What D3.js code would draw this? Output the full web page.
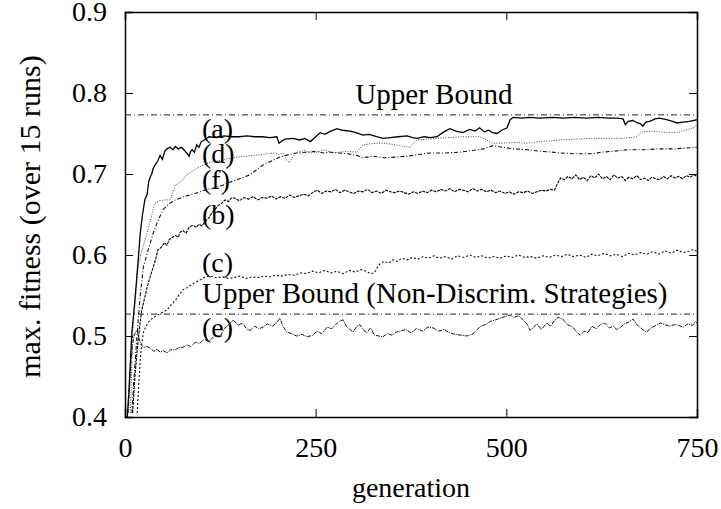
<!DOCTYPE html>
<html>
<head>
<meta charset="utf-8">
<script src="https://cdn.jsdelivr.net/npm/d3@7"></script>
<style>
  body { margin: 0; background: #fff; }
  svg text { font-family: "Liberation Serif", "Times New Roman", Times, "DejaVu Serif", serif !important; fill: #000; }
</style>
</head>
<body>
<div id="chart"></div>
<script>
// [generation, max. fitness]
const seriesA = [[3,0.40],[5,0.43],[9,0.504],[13,0.544],[17,0.59],[20,0.627],[23,0.65],[26,0.668],[29,0.675],[31,0.69],[33,0.696],[35,0.70],[37,0.707],[40,0.712],[43,0.716],[46,0.723],[49,0.718],[52,0.728],[55,0.731],[59,0.733],[63,0.730],[66,0.734],[70,0.731],[74,0.733],[78,0.729],[81,0.726],[84,0.722],[86,0.728],[88,0.730],[91,0.727],[94,0.736],[97,0.733],[100,0.740],[104,0.742],[110,0.746],[120,0.745],[130,0.747],[140,0.746],[150,0.746],[160,0.747],[170,0.746],[180,0.746],[190,0.745],[199,0.746],[202,0.738],[206,0.741],[210,0.743],[220,0.744],[229,0.742],[236,0.744],[243,0.740],[250,0.746],[256,0.751],[262,0.749],[270,0.753],[278,0.756],[285,0.754],[295,0.753],[303,0.751],[312,0.748],[320,0.749],[330,0.746],[338,0.744],[348,0.745],[358,0.746],[370,0.747],[377,0.745],[383,0.744],[392,0.746],[400,0.745],[409,0.746],[418,0.752],[426,0.756],[434,0.753],[443,0.751],[452,0.755],[459,0.753],[465,0.757],[471,0.752],[477,0.754],[482,0.751],[488,0.750],[494,0.754],[501,0.757],[505,0.767],[509,0.770],[520,0.769],[530,0.770],[544,0.769],[560,0.770],[575,0.769],[590,0.770],[605,0.769],[620,0.770],[635,0.769],[645,0.769],[653,0.768],[656,0.761],[660,0.765],[666,0.766],[672,0.763],[676,0.762],[679,0.759],[683,0.764],[688,0.765],[695,0.768],[701,0.769],[710,0.767],[718,0.765],[724,0.763],[732,0.764],[740,0.765],[750,0.767]];

const seriesB = [[10,0.405],[13,0.45],[16,0.483],[19,0.51],[22,0.532],[26,0.548],[29,0.560],[33,0.573],[37,0.585],[40,0.594],[43,0.606],[47,0.609],[52,0.615],[55,0.612],[58,0.619],[62,0.622],[66,0.624],[70,0.622],[72,0.628],[76,0.630],[80,0.627],[84,0.634],[89,0.637],[93,0.634],[97,0.638],[101,0.636],[105,0.641],[110,0.646],[114,0.652],[118,0.656],[122,0.661],[127,0.664],[131,0.668],[136,0.666],[140,0.671],[144,0.670],[150,0.667],[156,0.671],[162,0.669],[168,0.672],[174,0.668],[180,0.671],[186,0.670],[192,0.673],[198,0.669],[204,0.672],[210,0.670],[216,0.674],[222,0.671],[228,0.673],[234,0.675],[240,0.673],[246,0.677],[252,0.680],[258,0.676],[264,0.679],[270,0.678],[276,0.681],[282,0.677],[288,0.680],[294,0.678],[300,0.676],[306,0.679],[312,0.678],[318,0.681],[324,0.677],[330,0.679],[336,0.676],[342,0.680],[348,0.678],[354,0.677],[360,0.679],[366,0.677],[372,0.675],[378,0.678],[384,0.676],[390,0.679],[396,0.677],[402,0.680],[408,0.678],[414,0.681],[420,0.679],[426,0.682],[432,0.678],[438,0.681],[444,0.680],[450,0.678],[456,0.682],[462,0.679],[468,0.681],[474,0.678],[480,0.680],[486,0.677],[492,0.679],[498,0.676],[504,0.678],[510,0.675],[516,0.678],[522,0.677],[528,0.679],[534,0.676],[540,0.678],[546,0.680],[552,0.679],[558,0.681],[563,0.680],[567,0.688],[571,0.695],[576,0.693],[581,0.697],[586,0.694],[591,0.699],[596,0.693],[601,0.696],[606,0.692],[611,0.698],[616,0.695],[621,0.700],[626,0.694],[631,0.697],[636,0.693],[641,0.699],[646,0.695],[651,0.697],[656,0.692],[661,0.696],[666,0.694],[671,0.698],[676,0.693],[681,0.695],[686,0.692],[691,0.696],[696,0.694],[701,0.693],[706,0.697],[711,0.694],[716,0.698],[721,0.695],[726,0.697],[731,0.694],[736,0.698],[741,0.696],[746,0.699],[750,0.697]];

const seriesC = [[16,0.405],[18,0.44],[20,0.470],[22,0.49],[24,0.504],[28,0.513],[33,0.520],[38,0.523],[43,0.526],[49,0.529],[55,0.532],[60,0.538],[66,0.544],[71,0.551],[76,0.557],[82,0.560],[88,0.564],[94,0.567],[100,0.570],[105,0.573],[112,0.574],[120,0.572],[128,0.573],[136,0.571],[142,0.572],[150,0.574],[158,0.571],[166,0.573],[174,0.572],[182,0.574],[190,0.573],[198,0.575],[206,0.574],[214,0.576],[222,0.575],[230,0.578],[238,0.577],[246,0.580],[254,0.578],[262,0.581],[270,0.578],[278,0.580],[286,0.577],[294,0.581],[302,0.579],[310,0.582],[316,0.580],[322,0.577],[327,0.578],[331,0.585],[335,0.590],[340,0.592],[346,0.590],[351,0.594],[357,0.592],[363,0.596],[370,0.594],[377,0.597],[384,0.595],[391,0.598],[398,0.596],[405,0.599],[412,0.596],[420,0.598],[428,0.595],[436,0.599],[444,0.597],[452,0.600],[460,0.597],[468,0.599],[476,0.596],[484,0.598],[492,0.596],[500,0.599],[508,0.597],[516,0.600],[524,0.597],[532,0.598],[540,0.596],[548,0.599],[556,0.597],[564,0.600],[572,0.598],[580,0.601],[588,0.598],[596,0.600],[604,0.597],[612,0.601],[620,0.599],[628,0.602],[636,0.599],[644,0.601],[652,0.598],[660,0.602],[668,0.600],[676,0.603],[684,0.601],[692,0.604],[700,0.601],[708,0.605],[716,0.602],[724,0.606],[732,0.603],[740,0.605],[746,0.607],[750,0.604]];

const seriesD = [[7,0.405],[10,0.504],[14,0.55],[17,0.585],[22,0.605],[29,0.627],[34,0.645],[39,0.664],[45,0.667],[52,0.668],[59,0.668],[63,0.678],[66,0.686],[72,0.690],[77,0.694],[81,0.699],[88,0.703],[94,0.707],[98,0.709],[105,0.712],[111,0.714],[120,0.716],[130,0.718],[140,0.720],[151,0.721],[160,0.722],[170,0.723],[180,0.724],[186,0.725],[195,0.726],[202,0.724],[207,0.726],[211,0.718],[216,0.714],[220,0.722],[226,0.727],[235,0.729],[244,0.726],[252,0.727],[262,0.730],[272,0.726],[282,0.727],[293,0.728],[304,0.727],[308,0.731],[312,0.736],[320,0.737],[330,0.738],[338,0.738],[348,0.737],[360,0.735],[374,0.733],[378,0.738],[383,0.742],[395,0.743],[409,0.744],[425,0.745],[443,0.746],[455,0.746],[465,0.746],[472,0.743],[482,0.738],[495,0.738],[510,0.739],[527,0.738],[545,0.740],[560,0.741],[570,0.742],[590,0.743],[614,0.744],[630,0.744],[650,0.744],[665,0.745],[671,0.746],[675,0.750],[678,0.752],[690,0.753],[701,0.752],[712,0.751],[724,0.751],[735,0.754],[745,0.757],[750,0.760]];

const seriesE = [[4,0.405],[6,0.44],[8,0.470],[10,0.49],[12,0.501],[14,0.505],[16,0.507],[18,0.498],[21,0.489],[25,0.486],[29,0.487],[33,0.485],[38,0.481],[42,0.484],[46,0.480],[50,0.482],[55,0.479],[60,0.483],[66,0.483],[71,0.486],[76,0.486],[81,0.489],[86,0.487],[92,0.492],[98,0.491],[104,0.496],[110,0.493],[118,0.501],[124,0.498],[130,0.509],[136,0.514],[142,0.520],[148,0.513],[154,0.516],[160,0.508],[164,0.507],[170,0.512],[176,0.509],[181,0.511],[187,0.515],[193,0.512],[199,0.516],[203,0.522],[207,0.512],[212,0.505],[218,0.503],[225,0.500],[232,0.502],[239,0.499],[246,0.501],[252,0.506],[258,0.503],[265,0.511],[271,0.509],[276,0.514],[281,0.518],[286,0.520],[290,0.512],[295,0.508],[299,0.505],[304,0.512],[308,0.514],[312,0.508],[317,0.504],[322,0.510],[327,0.501],[333,0.500],[338,0.499],[344,0.503],[350,0.501],[356,0.505],[361,0.506],[368,0.508],[375,0.504],[382,0.509],[390,0.506],[397,0.511],[404,0.510],[411,0.506],[418,0.508],[426,0.504],[433,0.502],[441,0.501],[448,0.500],[455,0.502],[460,0.506],[465,0.511],[472,0.514],[479,0.518],[486,0.520],[492,0.522],[499,0.524],[505,0.526],[510,0.523],[516,0.525],[522,0.520],[527,0.515],[531,0.507],[535,0.510],[540,0.515],[546,0.508],[553,0.516],[558,0.512],[563,0.519],[568,0.523],[574,0.521],[580,0.514],[587,0.511],[592,0.505],[597,0.501],[602,0.506],[607,0.504],[612,0.512],[618,0.509],[623,0.514],[629,0.516],[635,0.510],[640,0.512],[645,0.508],[650,0.511],[655,0.515],[660,0.517],[666,0.521],[671,0.514],[676,0.510],[680,0.507],[684,0.505],[690,0.510],[696,0.513],[702,0.516],[708,0.514],[714,0.512],[720,0.514],[726,0.513],[732,0.511],[738,0.515],[744,0.513],[748,0.518],[750,0.516]];

const seriesF = [[9,0.405],[12,0.45],[16,0.504],[20,0.55],[24,0.585],[30,0.605],[37,0.627],[43,0.642],[50,0.656],[55,0.661],[59,0.664],[66,0.668],[72,0.670],[76,0.672],[85,0.674],[92,0.676],[98,0.678],[108,0.681],[118,0.683],[128,0.686],[138,0.690],[150,0.694],[158,0.697],[164,0.699],[172,0.705],[181,0.711],[190,0.715],[203,0.721],[215,0.724],[225,0.726],[239,0.727],[250,0.728],[260,0.726],[269,0.727],[280,0.726],[292,0.725],[304,0.723],[312,0.720],[325,0.722],[340,0.720],[357,0.721],[370,0.722],[385,0.724],[400,0.726],[420,0.726],[439,0.727],[455,0.729],[470,0.731],[482,0.735],[495,0.733],[510,0.731],[527,0.730],[545,0.728],[560,0.727],[570,0.726],[590,0.725],[614,0.725],[625,0.727],[640,0.728],[658,0.730],[680,0.730],[701,0.731],[720,0.731],[735,0.732],[750,0.733]];

const upperBound = 0.773;
const upperBoundNonDiscrim = 0.527;

const xTicks = [0, 250, 500, 750];
const yTicks = [0.4, 0.5, 0.6, 0.7, 0.8, 0.9];

// curve labels: [text, generation, value at baseline]
const curveLabels = [
    ["(a)", 101, 0.745],
    ["(d)", 101, 0.714],
    ["(f)", 101, 0.681],
    ["(b)", 101, 0.638],
    ["(c)", 101, 0.579],
    ["(e)", 101, 0.499]
];

const serif = '"Liberation Serif", "Times New Roman", Times, "DejaVu Serif", serif';

const width = 721;
const height = 509;
const margin = { top: 12, right: 24, bottom: 92, left: 125 };

const usableArea = {
    top: margin.top,
    right: width - margin.right,
    bottom: height - margin.bottom,
    left: margin.left
};

const svg = d3.select("#chart")
    .append("svg")
    .attr("width", width)
    .attr("height", height)
    .attr("font-family", serif);

const xScale = d3.scaleLinear()
    .domain([0, 750])
    .range([usableArea.left, usableArea.right]);

const yScale = d3.scaleLinear()
    .domain([0.4, 0.9])
    .range([usableArea.bottom, usableArea.top]);

svg.append("clipPath").attr("id", "plot-clip")
    .append("rect")
    .attr("x", usableArea.left)
    .attr("y", usableArea.top)
    .attr("width", usableArea.right - usableArea.left)
    .attr("height", usableArea.bottom - usableArea.top);

const line = d3.line()
    .x(d => xScale(d[0]))
    .y(d => yScale(d[1]));

const plot = svg.append("g").attr("clip-path", "url(#plot-clip)");

// upper bounds
[upperBound, upperBoundNonDiscrim].forEach(v => {
    plot.append("line")
        .attr("x1", xScale(0)).attr("x2", xScale(750))
        .attr("y1", yScale(v)).attr("y2", yScale(v))
        .attr("stroke", "#222")
        .attr("stroke-width", 1)
        .attr("stroke-dasharray", "6,3,1,3");
});

// the six runs, each with its own dash style
const series = [
    { data: seriesE, dash: "4,1,1,1", width: 1, color: "#111" },
    { data: seriesC, dash: "2,2", width: 1.1, color: "#111" },
    { data: seriesB, dash: "3,1", width: 1.1, color: "#000" },
    { data: seriesF, dash: "4,2,1,2", width: 1.1, color: "#111" },
    { data: seriesD, dash: "1,1.5", width: 1, color: "#444" },
    { data: seriesA, dash: null, width: 1.3, color: "#000" }
];

series.forEach(s => {
    plot.append("path")
        .datum(s.data)
        .attr("d", line)
        .attr("fill", "none")
        .attr("stroke", s.color)
        .attr("stroke-width", s.width)
        .attr("stroke-dasharray", s.dash);
});

// frame and ticks
const axes = svg.append("g");

axes.append("g")
    .attr("transform", `translate(0, ${usableArea.bottom})`)
    .call(d3.axisBottom(xScale).tickValues(xTicks).tickSize(-8).tickFormat(d3.format("d")).tickPadding(20));

axes.append("g")
    .attr("transform", `translate(0, ${usableArea.top})`)
    .call(d3.axisTop(xScale).tickValues(xTicks).tickSize(-8).tickFormat(""));

axes.append("g")
    .attr("transform", `translate(${usableArea.left}, 0)`)
    .call(d3.axisLeft(yScale).tickValues(yTicks).tickSize(-8).tickFormat(d3.format(".1f")).tickPadding(18));

axes.append("g")
    .attr("transform", `translate(${usableArea.right}, 0)`)
    .call(d3.axisRight(yScale).tickValues(yTicks).tickSize(-8).tickFormat(""));

axes.selectAll("g").attr("font-family", serif).attr("font-size", 28);
axes.selectAll(".domain").attr("stroke", "#000").attr("stroke-width", 1.5);
axes.selectAll(".tick line").attr("stroke", "#000").attr("stroke-width", 1);
axes.selectAll(".tick text").attr("fill", "#000");

// axis titles
svg.append("text")
    .attr("x", (usableArea.left + usableArea.right) / 2)
    .attr("y", 497)
    .attr("text-anchor", "middle")
    .attr("font-size", 28)
    .text("generation");

svg.append("text")
    .attr("transform", `translate(40, ${(usableArea.top + usableArea.bottom) / 2 + 2}) rotate(-90)`)
    .attr("text-anchor", "middle")
    .attr("font-size", 30)
    .text("max. fitness (over 15 runs)");

// bound labels
svg.append("text")
    .attr("x", xScale(302))
    .attr("y", yScale(0.787))
    .attr("font-size", 29)
    .text("Upper Bound");

svg.append("text")
    .attr("x", xScale(101))
    .attr("y", yScale(0.5405))
    .attr("font-size", 29)
    .text("Upper Bound (Non-Discrim. Strategies)");

svg.selectAll(".curve-label")
    .data(curveLabels)
    .join("text")
    .attr("class", "curve-label")
    .attr("x", d => xScale(d[1]))
    .attr("y", d => yScale(d[2]))
    .attr("font-size", 28)
    .text(d => d[0]);
</script>
</body>
</html>
